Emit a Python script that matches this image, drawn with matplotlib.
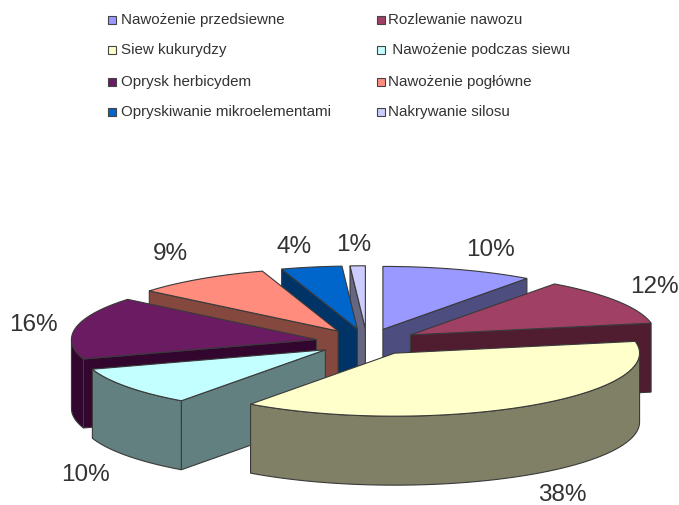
import numpy as np
import matplotlib
matplotlib.use('Agg')
import matplotlib.pyplot as plt
from matplotlib.patches import Polygon, Rectangle

plt.rcParams['font.family'] = ['Liberation Sans', 'DejaVu Sans']

# Data
categories = ['Nawożenie przedsiewne', 'Rozlewanie nawozu', 'Siew kukurydzy',
              ' Nawożenie podczas siewu', 'Oprysk herbicydem', 'Nawożenie pogłówne',
              'Opryskiwanie mikroelementami', 'Nakrywanie silosu']
values = [10, 12, 38, 10, 16, 9, 4, 1]
top_colors = ['#9999FF', '#A04064', '#FFFFCC', '#C4FFFF', '#6A1B62', '#FF8C7C', '#0066CC', '#CCCCFF']
side_colors = ['#4D4D80', '#4F1C30', '#808066', '#62807F', '#33062F', '#84483E', '#003366', '#666680']

# Pie geometry in pixels
cx, cy = 367, 343
rx, ry = 245, 63
depth = 69
explode = 0.21
edge = '#3A3A3A'

# far to near, so nearer slices paint over the others
draw_order = [0, 7, 6, 5, 1, 4, 3, 2]
label_nudge = [(31, -21), (36, -15), (41, 87), (-41, 87), (-43, -3), (-31, -26), (-18, -21), (-4, -22)]


def arc_points(x0, y0, a1, a2, n=60):
    t = np.radians(np.linspace(a1, a2, n))
    return np.column_stack((x0 + rx * np.sin(t), y0 - ry * np.cos(t)))


def side_face(pts, color):
    low = pts[::-1] + [0, depth]
    ax.add_patch(Polygon(np.vstack((pts, low)), closed=True, facecolor=color,
                         edgecolor=edge, linewidth=0.8))


fig = plt.figure(figsize=(6.79, 5.06), dpi=100)
ax = fig.add_axes([0, 0, 1, 1])
ax.set_xlim(0, 679)
ax.set_ylim(506, 0)
ax.axis('off')

total = sum(values)
ends = np.cumsum(values) / total * 360
starts = ends - np.array(values) / total * 360

for i in draw_order:
    a1, a2 = starts[i], ends[i]
    mid = np.radians((a1 + a2) / 2)
    x0 = cx + explode * rx * np.sin(mid)
    y0 = cy - explode * ry * np.cos(mid)
    apex = np.array([x0, y0])
    arc = arc_points(x0, y0, a1, a2)
    m = arc[len(arc) // 2]

    # flat faces: only the ones turned towards the viewer
    for p in (arc[0], arc[-1]):
        dx = p[0] - x0
        if abs(dx) < 1e-6:
            continue
        line_y = y0 + (p[1] - y0) * (m[0] - x0) / dx
        if m[1] < line_y:
            side_face(np.array([apex, p]), side_colors[i])

    # outer rim, front half of the ellipse only
    r1, r2 = max(a1, 90), min(a2, 270)
    if r1 < r2:
        side_face(arc_points(x0, y0, r1, r2), side_colors[i])

    ax.add_patch(Polygon(np.vstack((apex, arc)), closed=True, facecolor=top_colors[i],
                         edgecolor=edge, linewidth=0.8))

    ax.text(m[0] + label_nudge[i][0], m[1] + label_nudge[i][1], f'{values[i]}%',
            fontsize=17.5, color='#333333', ha='center', va='center')

# legend, two columns, written by hand to keep the original spacing
col_x = [108, 377]
row_y = [20, 50, 82, 112]
for i, name in enumerate(categories):
    x = col_x[i % 2]
    y = row_y[i // 2]
    ax.add_patch(Rectangle((x, y - 3.5), 8, 8, facecolor=top_colors[i], edgecolor='#444444', linewidth=0.8))
    ax.text(x + 13 if i % 2 == 0 else x + 11, y, name, fontsize=10.9, color='#333333', ha='left', va='center')

fig.savefig('out.png', dpi=100)
